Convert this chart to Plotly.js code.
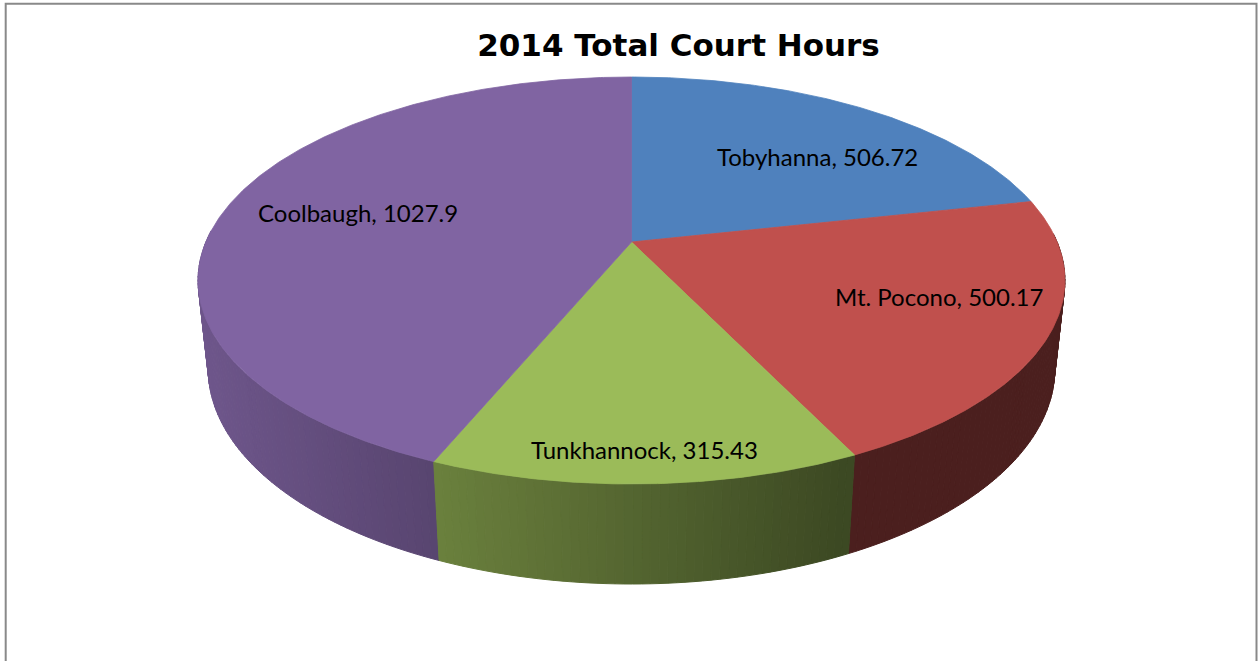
<!DOCTYPE html>
<html>
<head>
<meta charset="utf-8">
<script src="https://cdn.plot.ly/plotly-3.0.1.min.js"></script>
<style>html,body{margin:0;padding:0;background:#fff;}#chart{width:1258px;height:661px;}</style>
</head>
<body>
<div id="chart"></div>
<script>
// ---------------- data ----------------
const chartTitle = '2014 Total Court Hours';
const categories = ['Tobyhanna', 'Mt. Pocono', 'Tunkhannock', 'Coolbaugh'];
const hours = [506.72, 500.17, 315.43, 1027.9];
const sliceColors = ['#4F81BD', '#C0504D', '#9BBB59', '#8064A2'];

// ---------------- view / layout settings ----------------
const W = 1258, H = 661;
const view = {cx: 631.5, cy: 242, F: 1996.6, D: 4.691, tiltDeg: 27.45, thick: 0.2357};
const labelRadius = [0.67, 0.735, 0.88, 0.68];
const labelAngleShift = [6.4, -5, 0, 1.9];
const labelFont = {family: 'Lato, "Open Sans", sans-serif', size: 24, color: '#000'};

const sT = Math.sin(view.tiltDeg * Math.PI / 180), cT = Math.cos(view.tiltDeg * Math.PI / 180);
function project(X, Y, Z) {
  const depth = view.D - Y * sT + Z * cT;
  return {x: view.cx + X * view.F / depth, y: view.cy - (Y * cT + Z * sT) * view.F / depth, depth: depth};
}
function rim(thetaDeg, Y, r) {
  const t = thetaDeg * Math.PI / 180; r = (r === undefined) ? 1 : r;
  return project(r * Math.sin(t), Y, r * Math.cos(t));
}
function shade(hex, f) {
  const n = parseInt(hex.slice(1), 16);
  const r = Math.round(((n >> 16) & 255) * f), g = Math.round(((n >> 8) & 255) * f), b = Math.round((n & 255) * f);
  return 'rgb(' + r + ',' + g + ',' + b + ')';
}
function sideFactor(x) { return Math.max(0.39, 0.86 - 0.000732 * (x - 198)); }

const total = hours.reduce((a, b) => a + b, 0);
const starts = [], ends = [];
let acc = 0;
hours.forEach(v => { starts.push(acc / total * 360); acc += v; ends.push(acc / total * 360); });

const traces = [];
// side strips
const strips = [];
hours.forEach((v, i) => {
  const a1 = starts[i], a2 = ends[i];
  const n = Math.max(1, Math.ceil((a2 - a1) / 1));
  for (let k = 0; k < n; k++) {
    const ta = a1 + (a2 - a1) * k / n, tb = a1 + (a2 - a1) * (k + 1) / n, tm = (ta + tb) / 2;
    if (Math.cos(tm * Math.PI / 180) > 0.05) continue;
    const p1 = rim(ta, 0), p2 = rim(tb, 0), p3 = rim(tb, -view.thick), p4 = rim(ta, -view.thick);
    const col = shade(sliceColors[i], sideFactor((p1.x + p2.x) / 2));
    strips.push({depth: rim(tm, 0).depth, x: [p1.x, p2.x, p3.x, p4.x, p1.x], y: [p1.y, p2.y, p3.y, p4.y, p1.y], col: col});
  }
});
strips.sort((a, b) => b.depth - a.depth);
strips.forEach(st => traces.push({
  type: 'scatter', mode: 'lines', x: st.x, y: st.y, fill: 'toself', fillcolor: st.col,
  line: {color: st.col, width: 1}, hoverinfo: 'skip', showlegend: false
}));

// top faces
hours.forEach((v, i) => {
  const c0 = project(0, 0, 0);
  const xs = [c0.x], ys = [c0.y];
  const n = Math.max(2, Math.ceil((ends[i] - starts[i]) / 0.5));
  for (let k = 0; k <= n; k++) {
    const p = rim(starts[i] + (ends[i] - starts[i]) * k / n, 0);
    xs.push(p.x); ys.push(p.y);
  }
  xs.push(c0.x); ys.push(c0.y);
  traces.push({
    type: 'scatter', mode: 'lines', x: xs, y: ys, fill: 'toself', fillcolor: sliceColors[i],
    line: {color: sliceColors[i], width: 0.8}, name: categories[i], hoverinfo: 'name', showlegend: false
  });
});

// labels
const annotations = hours.map((v, i) => {
  const mid = (starts[i] + ends[i]) / 2 + labelAngleShift[i];
  const p = rim(mid, 0, labelRadius[i]);
  return {x: p.x, y: p.y, xref: 'x', yref: 'y', text: categories[i] + ', ' + v, showarrow: false,
          xanchor: 'center', yanchor: 'middle', font: labelFont};
});

const layout = {
  width: W, height: H, autosize: false,
  margin: {l: 0, r: 0, t: 0, b: 0, pad: 0},
  paper_bgcolor: '#fff', plot_bgcolor: '#fff',
  title: {text: '<b>' + chartTitle + '</b>', x: 678.5 / W, xanchor: 'center', xref: 'paper',
          y: 1 - 45 / H, yref: 'container', yanchor: 'middle',
          font: {family: '"DejaVu Sans", sans-serif', size: 31, color: '#000'}},
  xaxis: {range: [0, W], visible: false, fixedrange: true},
  yaxis: {range: [H, 0], visible: false, fixedrange: true},
  showlegend: false,
  annotations: annotations,
  shapes: [{type: 'rect', xref: 'paper', yref: 'paper', x0: 5.7 / W, x1: 1256.5 / W, y0: -0.02, y1: 1 - 3.7 / H,
            line: {color: '#898989', width: 2}, fillcolor: 'rgba(0,0,0,0)'}]
};

Plotly.newPlot('chart', traces, layout, {displayModeBar: false, staticPlot: true});
</script>
</body>
</html>
